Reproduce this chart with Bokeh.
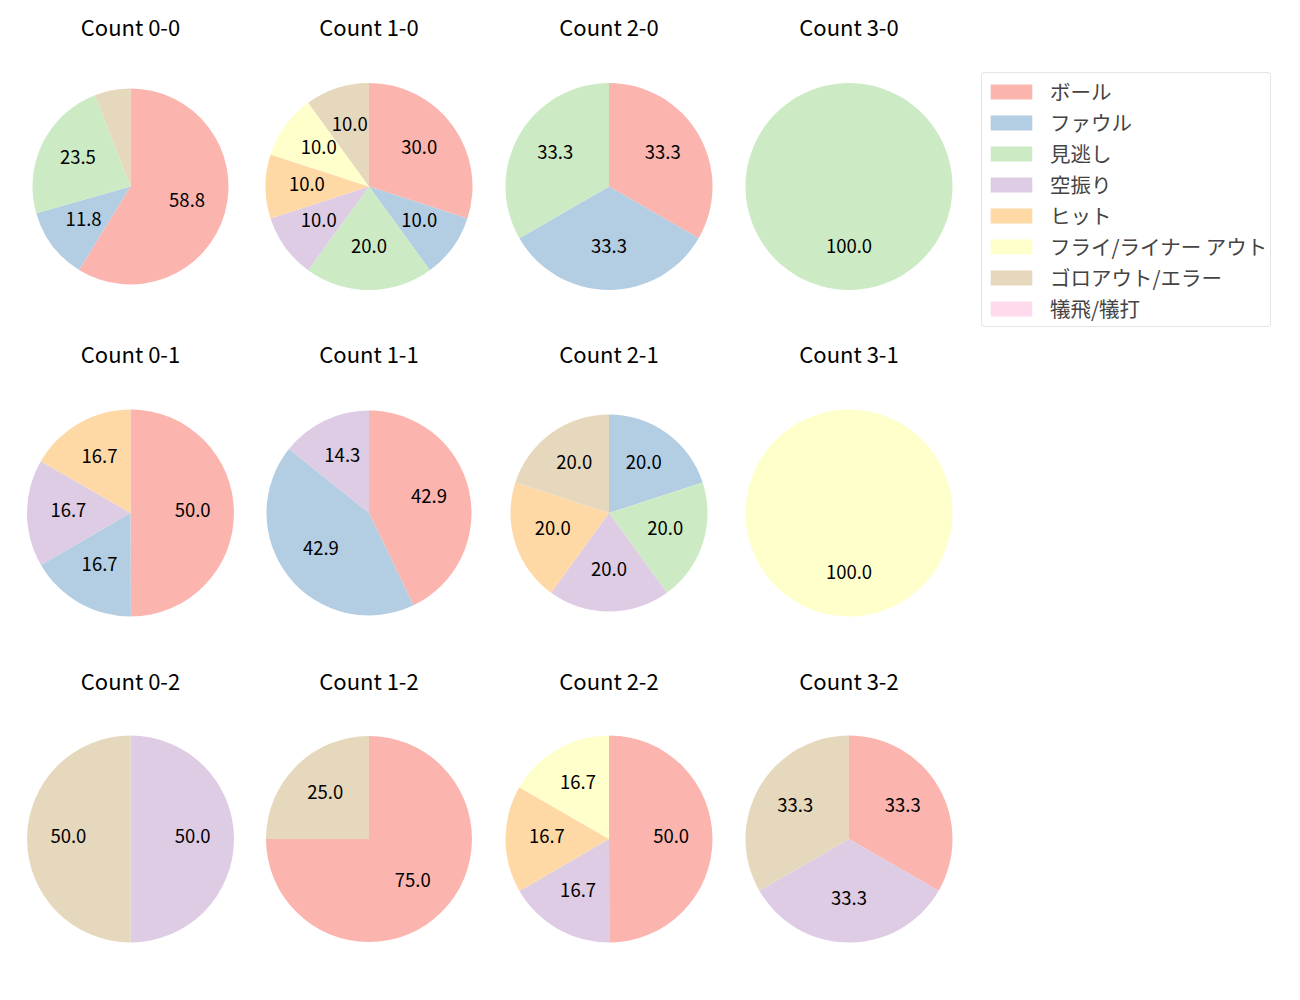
import math
from bokeh.plotting import figure
from bokeh.models import Range1d, ColumnDataSource, Legend, LegendItem
from bokeh.core.properties import value
from bokeh.embed import file_html
from bokeh.resources import INLINE

# ---- data (percent of pitches) ----
counts = ["0-0", "1-0", "2-0", "3-0",
          "0-1", "1-1", "2-1", "3-1",
          "0-2", "1-2", "2-2", "3-2"]
categories = ["ボール", "ファウル", "見逃し", "空振り", "ヒット",
              "フライ/ライナー アウト", "ゴロアウト/エラー", "犠飛/犠打"]
ball     = [58.8, 30.0, 33.3, 0, 50.0, 42.9, 0, 0, 0, 75.0, 50.0, 33.3]
foul     = [11.8, 10.0, 33.3, 0, 16.7, 42.9, 20.0, 0, 0, 0, 0, 0]
looking  = [23.5, 20.0, 33.3, 100.0, 0, 0, 20.0, 0, 0, 0, 0, 0]
swinging = [0, 10.0, 0, 0, 16.7, 14.3, 20.0, 0, 50.0, 0, 16.7, 33.3]
hit      = [0, 10.0, 0, 0, 16.7, 0, 20.0, 0, 0, 0, 16.7, 0]
flyout   = [0, 10.0, 0, 0, 0, 0, 0, 100.0, 0, 0, 16.7, 0]
groundout = [5.9, 10.0, 0, 0, 0, 0, 20.0, 0, 50.0, 25.0, 0, 33.3]
sacrifice = [0, 0, 0, 0, 0, 0, 0, 0, 0, 0, 0, 0]
series = [ball, foul, looking, swinging, hit, flyout, groundout, sacrifice]

# ---- style / layout ----
colors = ["#fbb4ae", "#b3cde3", "#ccebc5", "#decbe4", "#fed9a6",
          "#ffffcc", "#e5d8bd", "#fddaec"]
col_x = [130, 368.5, 608.5, 848.5]
row_y = [186, 512.5, 838.5]
title_y = [28, 355, 682]
radii = [98, 103.5, 103.5, 103.5,
         103.5, 102.5, 98.5, 103.5,
         103.5, 103, 103.5, 103.5]
FONT = "Noto Sans CJK JP"
H = 1000  # convert reference pixel rows to upward data coordinates

p = figure(width=1284, height=984, x_range=Range1d(0, 1284), y_range=Range1d(16, 1000),
           output_backend="svg", toolbar_location=None, min_border=0,
           x_axis_type=None, y_axis_type=None)
p.grid.visible = False
p.outline_line_color = None

centers = []
for i in range(len(counts)):
    r, c = divmod(i, 4)
    centers.append((col_x[c], H - row_y[r]))

totals = [sum(s[i] for s in series) for i in range(len(counts))]
cum = [0.0] * len(counts)

lab_x, lab_y, lab_t = [], [], []
items = []
for k, (name, vals) in enumerate(zip(categories, series)):
    d = dict(x=[], y=[], r=[], s=[], e=[])
    for i, v in enumerate(vals):
        frac = v / totals[i]
        cx, cy = centers[i]
        # an empty slice has no area: radius 0
        rad = radii[i] if v > 0 else 0.0
        a0 = math.pi / 2 - 2 * math.pi * cum[i]
        a1 = math.pi / 2 - 2 * math.pi * (cum[i] + frac)
        if frac > 0.9999:
            a1 = a0 - 2 * math.pi + 1e-4
        if v <= 0:
            a1 = a0 - 1e-4
        d["x"].append(cx); d["y"].append(cy); d["r"].append(rad)
        d["s"].append(a0); d["e"].append(a1)
        pct = frac * 100
        if pct >= 10:
            mid = math.pi / 2 - 2 * math.pi * (cum[i] + frac / 2)
            lab_x.append(cx + 0.6 * radii[i] * math.cos(mid))
            lab_y.append(cy + 0.6 * radii[i] * math.sin(mid))
            lab_t.append(f"{pct:.1f}")
        cum[i] += frac
    src = ColumnDataSource(d)
    rend = p.wedge(x="x", y="y", radius="r", start_angle="s", end_angle="e",
                   direction="clock", fill_color=colors[k], line_color=None,
                   source=src)
    items.append(LegendItem(label=name, renderers=[rend]))

p.text(x=lab_x, y=lab_y, text=lab_t, text_align="center", text_baseline="middle",
       y_offset=-3, text_font=value(FONT), text_font_size="18.5px", text_color="black")

p.text(x=[centers[i][0] for i in range(len(counts))],
       y=[H - title_y[i // 4] for i in range(len(counts))],
       text=[f"Count {c}" for c in counts],
       text_align="center", text_baseline="middle", y_offset=-3,
       text_font=value(FONT), text_font_size="22px", text_color="black")

legend = Legend(items=items, location=(981, 657), margin=0, padding=3,
                spacing=1, label_height=20, glyph_width=52, glyph_height=19,
                label_standoff=13, label_text_font=FONT,
                label_text_font_size="20.5px", border_line_color="#cccccc",
                border_line_width=1, background_fill_alpha=0.8, border_radius=4)
p.add_layout(legend, "center")

open("out.html", "w").write(file_html(p, INLINE))
